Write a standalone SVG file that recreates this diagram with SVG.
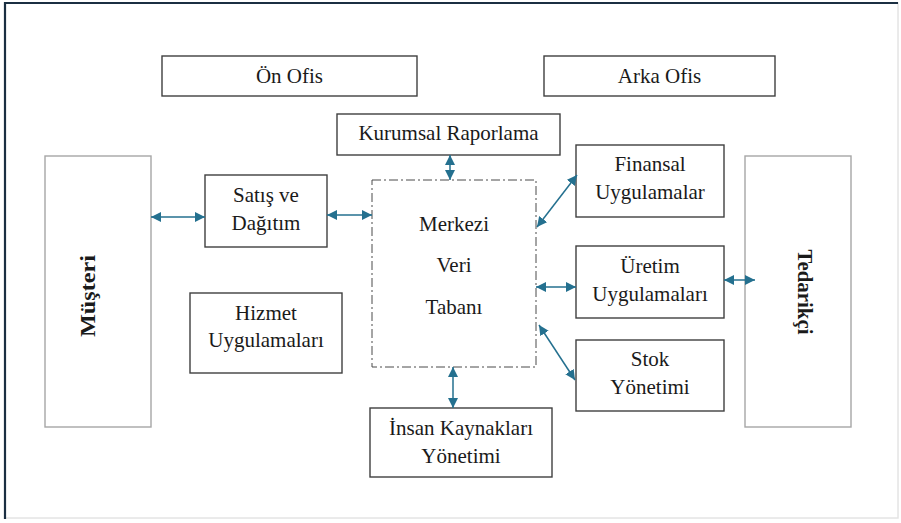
<svg xmlns="http://www.w3.org/2000/svg" width="901" height="523" viewBox="0 0 901 523">
  <style>
    .box { fill: #ffffff; stroke: #3f3f3f; stroke-width: 1.4; }
    .side { fill: #ffffff; stroke: #a6a6a6; stroke-width: 1.4; }
    .db { fill: #ffffff; stroke: #4a4a4a; stroke-width: 1; stroke-dasharray: 9 3 2 3; }
    .lbl { font-family: "Liberation Serif", "Times New Roman", serif; font-size: 21px; fill: #1a1a1a; text-anchor: middle; }
    .bold { font-weight: bold; font-size: 22px; }
    .conn { stroke: #24708f; stroke-width: 1.5; fill: none; marker-start: url(#head); marker-end: url(#head); }
  </style>
  <defs>
    <marker id="head" viewBox="0 0 10 10" refX="10" refY="5" markerWidth="10" markerHeight="10" markerUnits="userSpaceOnUse" orient="auto-start-reverse">
      <path d="M0,0 L10,5 L0,10 z" fill="#24708f"/>
    </marker>
  </defs>

  <!-- frame -->
  <rect x="0" y="0" width="901" height="523" fill="#ffffff"/>
  <rect x="5" y="3" width="893" height="515" fill="none" stroke="#e4e4e4" stroke-width="1.5"/>
  <path d="M5,519 L5,3 L898,3" fill="none" stroke="#1b2f42" stroke-width="2.2"/>

  <g id="on-ofis">
    <rect class="box" x="162" y="56" width="255" height="40"/>
    <text class="lbl" x="289.5" y="83">Ön Ofis</text>
  </g>
  <g id="arka-ofis">
    <rect class="box" x="544" y="56" width="231" height="40"/>
    <text class="lbl" x="659.5" y="83">Arka Ofis</text>
  </g>
  <g id="kurumsal-raporlama">
    <rect class="box" x="337" y="114" width="223" height="41"/>
    <text class="lbl" x="448.5" y="140">Kurumsal Raporlama</text>
  </g>
  <g id="musteri">
    <rect class="side" x="45" y="156" width="106" height="271"/>
    <text class="lbl bold" transform="translate(95,296) rotate(-90)" textLength="82" lengthAdjust="spacingAndGlyphs">Müşteri</text>
  </g>
  <g id="satis-dagitim">
    <rect class="box" x="205" y="175" width="122" height="72"/>
    <text class="lbl" x="266" y="202">Satış ve</text>
    <text class="lbl" x="266" y="230">Dağıtım</text>
  </g>
  <g id="merkezi-veri-tabani">
    <rect class="db" x="372" y="180" width="164" height="187"/>
    <text class="lbl" x="454" y="231">Merkezi</text>
    <text class="lbl" x="454" y="272">Veri</text>
    <text class="lbl" x="454" y="314">Tabanı</text>
  </g>
  <g id="finansal-uygulamalar">
    <rect class="box" x="576" y="145" width="148" height="72"/>
    <text class="lbl" x="650" y="171">Finansal</text>
    <text class="lbl" x="650" y="199">Uygulamalar</text>
  </g>
  <g id="uretim-uygulamalari">
    <rect class="box" x="576" y="246" width="148" height="72"/>
    <text class="lbl" x="650" y="273">Üretim</text>
    <text class="lbl" x="650" y="301">Uygulamaları</text>
  </g>
  <g id="stok-yonetimi">
    <rect class="box" x="576" y="340" width="148" height="71"/>
    <text class="lbl" x="650" y="366">Stok</text>
    <text class="lbl" x="650" y="394">Yönetimi</text>
  </g>
  <g id="tedarikci">
    <rect class="side" x="745" y="156" width="106" height="271"/>
    <text class="lbl bold" transform="translate(798,292) rotate(90)" textLength="85" lengthAdjust="spacingAndGlyphs">Tedarikçi</text>
  </g>
  <g id="hizmet-uygulamalari">
    <rect class="box" x="190" y="293" width="152" height="80"/>
    <text class="lbl" x="266" y="320">Hizmet</text>
    <text class="lbl" x="266" y="347">Uygulamaları</text>
  </g>
  <g id="insan-kaynaklari">
    <rect class="box" x="370" y="408" width="182" height="69"/>
    <text class="lbl" x="461" y="435">İnsan Kaynakları</text>
    <text class="lbl" x="461" y="463">Yönetimi</text>
  </g>

  <g id="connectors">
    <line class="conn" x1="151" y1="217" x2="205" y2="217"/>
    <line class="conn" x1="327" y1="215" x2="372" y2="215"/>
    <line class="conn" x1="450" y1="155" x2="450" y2="180"/>
    <line class="conn" x1="537" y1="227" x2="577" y2="175"/>
    <line class="conn" x1="536" y1="287" x2="576" y2="287"/>
    <line class="conn" x1="539" y1="325" x2="575" y2="380"/>
    <line class="conn" x1="453" y1="367" x2="453" y2="408"/>
    <line class="conn" x1="724" y1="280" x2="755" y2="280"/>
  </g>
</svg>
